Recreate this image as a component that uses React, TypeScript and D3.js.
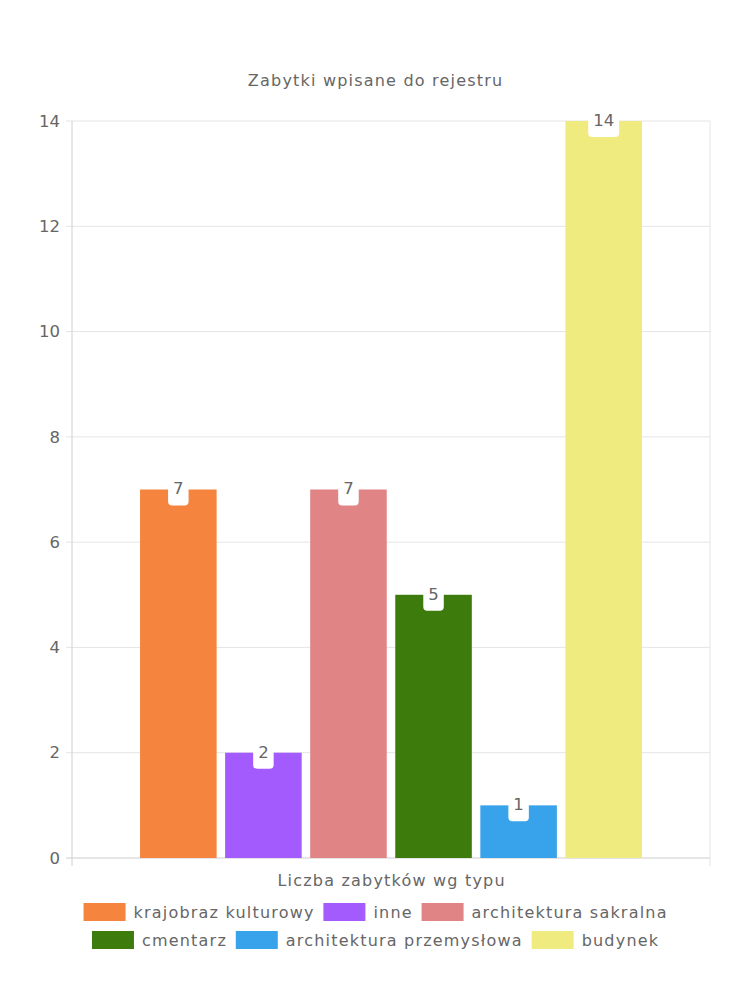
import React from "react";
import * as d3 from "d3";

const title = "Zabytki wpisane do rejestru";
const xTitle = "Liczba zabytków wg typu";
const seriesNames = [
  "krajobraz kulturowy",
  "inne",
  "architektura sakralna",
  "cmentarz",
  "architektura przemysłowa",
  "budynek",
];
const seriesValues = [7, 2, 7, 5, 1, 14];
const seriesColors = ["#f5843f", "#a35bfd", "#e08485", "#3e7b0d", "#38a3eb", "#f0eb7e"];
const yTicks = [0, 2, 4, 6, 8, 10, 12, 14];
const legendRows = [[0, 1, 2], [3, 4, 5]];

const W = 750;
const H = 1000;
const FONT = "'DejaVu Sans', sans-serif";
const TXT = "#666666";
const LS = 1.2;

let ctx: any = null;
function measure(t: string, size: number, ls = 0) {
  if (!ctx) ctx = document.createElement("canvas").getContext("2d");
  ctx.font = `${size}px 'DejaVu Sans'`;
  return ctx.measureText(t).width + ls * t.length;
}

export default function App() {
  const left = 72, right = 710, top = 121, bottom = 858;
  const y = d3.scaleLinear().domain([0, 14]).range([bottom, top]);
  const cat = d3.scaleBand().domain(["g"]).range([left, right]).paddingInner(0).paddingOuter(0);
  const catW = cat.bandwidth();
  const groupW = catW * 0.8;
  const x = d3
    .scaleBand<number>()
    .domain(seriesNames.map((_, i) => i))
    .range([cat("g")! + (catW - groupW) / 2, cat("g")! + (catW + groupW) / 2]);
  const barW = x.step() * 0.9;
  const lfs = 16;
  const boxW = 42, boxH = 18, gapT = 8, gapI = 10;
  const tW = measure(title, 16, LS) - LS;
  const xW = measure(xTitle, 16, LS) - LS;

  return (
    <svg width={W} height={H} style={{ display: "block", margin: "-8px", fontFamily: FONT }}>
      <rect width={W} height={H} fill="#fff" />
      <text x={375 - tW / 2} y={86} fontSize={16} letterSpacing={LS} fill={TXT}>
        {title}
      </text>
      {yTicks.map((t) => (
        <g key={t}>
          <line x1={left - 6} x2={right} y1={y(t)} y2={y(t)} stroke={t === 0 ? "#cccccc" : "#e5e5e5"} />
          <text x={60} y={y(t)} dy="0.35em" textAnchor="end" fontSize={16.5} fill={TXT}>
            {t}
          </text>
        </g>
      ))}
      <line x1={left} x2={left} y1={top} y2={bottom + 8} stroke="#d0d0d0" />
      <line x1={right} x2={right} y1={top} y2={bottom + 8} stroke="#e5e5e5" />
      {seriesValues.map((v, i) => {
        const bx = x(i)! + (x.step() - barW) / 2;
        const by = y(v);
        const lbl = String(v);
        const lw = measure(lbl, 16.5) + 10;
        const cx = bx + barW / 2;
        return (
          <g key={i}>
            <rect x={bx} y={by} width={barW} height={bottom - by} fill={seriesColors[i]} />
            <rect x={cx - lw / 2} y={by - 6} width={lw} height={22} rx={4} fill="#fff" />
            <text x={cx} y={by} dy="0.3em" textAnchor="middle" fontSize={16.5} fill={TXT}>
              {lbl}
            </text>
          </g>
        );
      })}
      <text x={391 - xW / 2} y={886} fontSize={16} letterSpacing={LS} fill={TXT}>
        {xTitle}
      </text>
      {legendRows.map((row, ri) => {
        const widths = row.map((i) => boxW + gapT + measure(seriesNames[i], lfs, LS) - LS);
        const total = d3.sum(widths) + gapI * (row.length - 1);
        let cx = W / 2 - total / 2;
        const ry = 903 + ri * 28;
        return (
          <g key={ri}>
            {row.map((i, k) => {
              const x0 = cx;
              cx += widths[k] + gapI;
              return (
                <g key={i}>
                  <rect x={x0} y={ry} width={boxW} height={boxH} fill={seriesColors[i]} />
                  <text x={x0 + boxW + gapT} y={ry + boxH / 2} dy="0.35em" fontSize={lfs} letterSpacing={LS} fill={TXT}>
                    {seriesNames[i]}
                  </text>
                </g>
              );
            })}
          </g>
        );
      })}
    </svg>
  );
}
